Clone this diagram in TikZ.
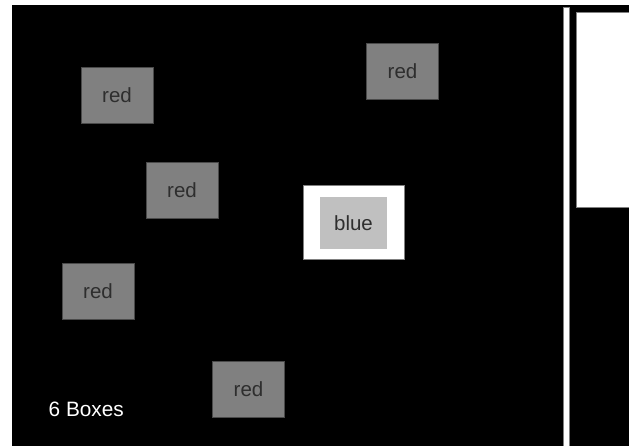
\documentclass[tikz,border=0pt]{standalone}
\usepackage{fontspec}
\setmainfont{Liberation Sans}
\usepackage{tikz}

\definecolor{boxgray}{HTML}{808080}
\definecolor{edgegray}{HTML}{4A4A4A}
\definecolor{textgray}{HTML}{2E2E2E}
\definecolor{lightgray}{HTML}{C0C0C0}

\begin{document}
\begin{tikzpicture}[x=1pt, y=-1pt,
  redbox/.style={draw=edgegray, fill=boxgray, line width=1pt, text=textgray,
    minimum width=72pt, minimum height=56pt, inner sep=0pt,
    font=\fontsize{20.5}{23}\selectfont},
  framebox/.style={draw=boxgray, fill=white, line width=1pt,
    minimum width=101pt, minimum height=74pt, inner sep=0pt},
  bluebox/.style={fill=lightgray, text=textgray,
    minimum width=67pt, minimum height=52pt, inner sep=0pt,
    font=\fontsize{20.5}{23}\selectfont},
  barbox/.style={draw=boxgray, fill=white, line width=0.8pt}]

\useasboundingbox (0,0) rectangle (629,446);
\fill[white] (0,0) rectangle (629,446);

% Background
\fill[black] (12,5) rectangle (629,446);

% Red boxes
\node[redbox] (red1) at (117,95.5) {red};
\node[redbox] (red2) at (182,190.5) {red};
\node[redbox] (red3) at (402.5,71.5) {red};
\node[redbox] (red4) at (98,291.5) {red};
\node[redbox] (red5) at (248.5,389) {red};

% Selected box
\node[framebox] (frame) at (353.5,223) {};
\node[bluebox] (blue) at (frame.center) {blue};

% Count
\node[white, anchor=base west, inner sep=0pt, font=\fontsize{20.8}{23}\selectfont]
  (count) at (48.5,416.5) {6 Boxes};

% Side bar and panel
\draw[barbox] (563,7.5) rectangle (569.5,450);
\draw[barbox] (576,12) rectangle (640,207);

\end{tikzpicture}
\end{document}
